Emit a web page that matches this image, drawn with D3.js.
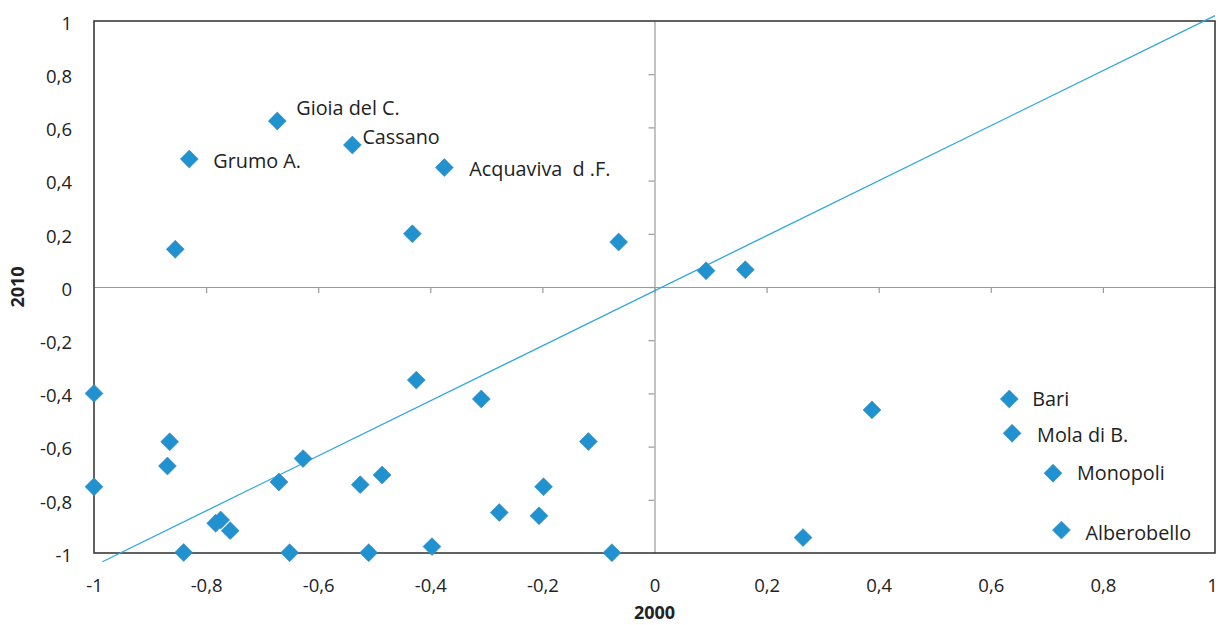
<!DOCTYPE html>
<html>
<head>
<meta charset="utf-8">
<script src="https://cdn.jsdelivr.net/npm/d3@7"></script>
<style>
  html, body { margin: 0; padding: 0; background: #fff; }
  svg { display: block; }
  text { font-family: "Open Sans", "Noto Sans", sans-serif; fill: #222; }
</style>
</head>
<body>
<svg id="chart" width="1219" height="625"></svg>
<script>
// ---- data ----
const names = [
  "Gioia del C.", "Cassano", "Grumo A.", "Acquaviva  d .F.", "", "", "", "", "",
  "", "", "", "", "", "", "", "", "", "", "", "", "", "", "", "", "", "", "", "", "", "",
  "", "", "Bari", "Mola di B.", "Monopoli", "Alberobello"
];
const values2000 = [
  -0.673, -0.539, -0.830, -0.375, -0.855, -0.432, -0.064, 0.092, 0.162,
  -1.000, -1.000, -0.865, -0.869, -0.840, -0.783, -0.774, -0.757, -0.670, -0.627, -0.651,
  -0.525, -0.486, -0.425, -0.309, -0.510, -0.397, -0.277, -0.206, -0.198, -0.118, -0.076,
  0.388, 0.265, 0.633, 0.638, 0.711, 0.726
];
const values2010 = [
  0.624, 0.534, 0.481, 0.449, 0.142, 0.200, 0.169, 0.061, 0.065,
  -0.400, -0.751, -0.582, -0.673, -0.998, -0.888, -0.876, -0.916, -0.733, -0.645, -0.999,
  -0.743, -0.707, -0.350, -0.421, -0.999, -0.976, -0.848, -0.860, -0.751, -0.581, -0.999,
  -0.462, -0.942, -0.421, -0.550, -0.700, -0.914
];
const trendX = [-0.985, 1.0];
const trendY = [-1.033, 1.020];
const xTicks = [-1, -0.8, -0.6, -0.4, -0.2, 0, 0.2, 0.4, 0.6, 0.8, 1];
const yTicks = [-1, -0.8, -0.6, -0.4, -0.2, 0, 0.2, 0.4, 0.6, 0.8, 1];
const xTitle = "2000";
const yTitle = "2010";

// ---- layout / style ----
const svg = d3.select("#chart");
const x = d3.scaleLinear().domain([-1, 1]).range([94, 1215]);
const y = d3.scaleLinear().domain([-1, 1]).range([553, 21]);
const fmt = v => String(+v.toFixed(1)).replace(".", ",");
const markerColor = "#2192d0";
const labelOffsets = {
  "Gioia del C.": [19, -13],
  "Cassano": [10, -8],
  "Grumo A.": [24, 2],
  "Acquaviva  d .F.": [25, 2],
  "Bari": [23, 0],
  "Mola di B.": [25, 2],
  "Monopoli": [24, 0],
  "Alberobello": [24, 3]
};

svg.append("rect").attr("width", 1219).attr("height", 625).attr("fill", "#fff");

// zero axes with ticks
const gx0 = svg.append("g").attr("transform", `translate(0,${y(0)})`)
  .call(d3.axisBottom(x).tickValues(xTicks).tickSize(6).tickSizeOuter(0).tickFormat(""));
const gy0 = svg.append("g").attr("transform", `translate(${x(0)},0)`)
  .call(d3.axisLeft(y).tickValues(yTicks).tickSize(6).tickSizeOuter(0).tickFormat(""));
[gx0, gy0].forEach(g => {
  g.select(".domain").attr("stroke", "#9a9a9a").attr("stroke-width", 1.2);
  g.selectAll(".tick line").attr("stroke", "#9a9a9a").attr("stroke-width", 1.2);
  g.selectAll(".tick").filter(d => d === -1 || d === 1).remove();
});

// plot box
svg.append("rect")
  .attr("x", x(-1)).attr("y", y(1))
  .attr("width", x(1) - x(-1)).attr("height", y(-1) - y(1))
  .attr("fill", "none").attr("stroke", "#3a3a3a").attr("stroke-width", 1.6);

// tick labels
const gxl = svg.append("g").attr("transform", `translate(0,${y(-1)})`)
  .call(d3.axisBottom(x).tickValues(xTicks).tickSize(0).tickPadding(26).tickFormat(fmt));
const gyl = svg.append("g").attr("transform", `translate(${x(-1)},0)`)
  .call(d3.axisLeft(y).tickValues(yTicks).tickSize(0).tickPadding(22).tickFormat(fmt));
[gxl, gyl].forEach(g => {
  g.select(".domain").remove();
  g.selectAll("text").attr("font-family", "'Open Sans', sans-serif")
    .attr("font-size", 18.5).attr("fill", "#222");
});
gyl.selectAll("text").attr("dy", "0.45em");
gxl.selectAll(".tick").filter(d => d === 1).select("text").attr("dx", -3);

// axis titles
svg.append("text").attr("x", x(0)).attr("y", 619)
  .attr("text-anchor", "middle").attr("font-size", 18).attr("font-weight", "bold")
  .text(xTitle);
svg.append("text").attr("transform", `translate(24,${y(0)}) rotate(-90)`)
  .attr("text-anchor", "middle").attr("font-size", 18).attr("font-weight", "bold")
  .text(yTitle);

// trend line
svg.append("path")
  .datum(d3.zip(trendX, trendY))
  .attr("fill", "none").attr("stroke", "#2fa6e0").attr("stroke-width", 1.3)
  .attr("d", d3.line().x(d => x(d[0])).y(d => y(d[1])));

// points
const pts = d3.range(values2000.length).map(i => ({ n: names[i], a: values2000[i], b: values2010[i] }));
const sym = d3.symbol(d3.symbolSquare, 160);
svg.append("g").selectAll("path").data(pts).join("path")
  .attr("transform", d => `translate(${x(d.a)},${y(d.b)}) rotate(45)`)
  .attr("d", sym)
  .attr("fill", markerColor).attr("stroke", "#3a88b8").attr("stroke-width", 0.6);

// labels
svg.append("g").selectAll("text").data(pts.filter(d => d.n)).join("text")
  .attr("x", d => x(d.a) + labelOffsets[d.n][0])
  .attr("y", d => y(d.b) + labelOffsets[d.n][1])
  .attr("dy", "0.35em")
  .attr("font-size", 19.8)
  .style("white-space", "pre")
  .text(d => d.n);
</script>
</body>
</html>
